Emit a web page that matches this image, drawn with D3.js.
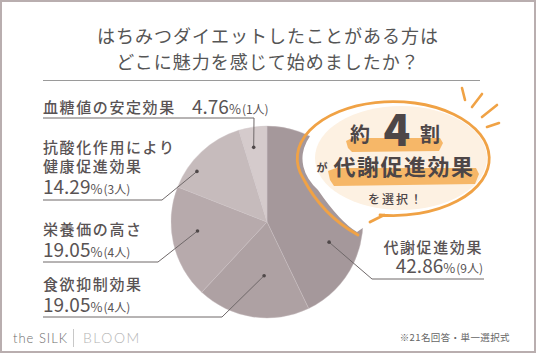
<!DOCTYPE html>
<html>
<head>
<meta charset="utf-8">
<script src="https://cdn.jsdelivr.net/npm/d3@7"></script>
<style>
  body { margin: 0; background: #fff; }
  svg text { font-family: "Noto Sans CJK JP", "Noto Sans", sans-serif; }
</style>
</head>
<body>
<div id="chart"></div>
<script>
// data (order = clockwise from 12 o'clock)
const categories = ["代謝促進効果", "食欲抑制効果", "栄養価の高さ", "抗酸化作用により\n健康促進効果", "血糖値の安定効果"];
const counts = [9, 4, 4, 3, 1];
const percents = ["42.86", "19.05", "19.05", "14.29", "4.76"];
const sliceColors = ["#a5989b", "#aea1a3", "#b7aaac", "#c6bbbc", "#d5cbcc"];

const width = 536;
const height = 353;
const cx = 267, cy = 222, radius = 96;
const textColor = "#595354";
const lineColor = "#6f6869";

// label layout: where the text sits and where the leader line bends
const labelLayout = [
  { anchor: "end", x: 483, nameY: [248], numY: 267, lineY: 279, x0: 372, x1: 484, elbow: 372, frac: 0.70, r: 0.68 },
  { anchor: "start", x: 43, nameY: [285], numY: 306, lineY: 317, x0: 43, x1: 222, elbow: 222, frac: 0.42, r: 0.56 },
  { anchor: "start", x: 43, nameY: [230], numY: 251, lineY: 262, x0: 43, x1: 158, elbow: 158, frac: 0.58, r: 0.73 },
  { anchor: "start", x: 43, nameY: [148, 167], numY: 188, lineY: 200, x0: 43, x1: 162, elbow: 162, frac: 0.28, r: 0.9 },
  { anchor: "start", x: 43, nameY: [108], numY: 108, numX: 192, lineY: 118, x0: 43, x1: 254, elbow: 254, frac: 0.41, r: 0.79 }
];

const svg = d3.select("#chart")
  .append("svg")
  .attr("width", width)
  .attr("height", height);

svg.append("rect")
  .attr("x", 1).attr("y", 1)
  .attr("width", width - 2).attr("height", height - 2)
  .attr("fill", "#fff")
  .attr("stroke", "#b9aeaf")
  .attr("stroke-width", 2);

// title
const title = ["はちみつダイエットしたことがある方は", "どこに魅力を感じて始めましたか？"];
svg.selectAll(".title")
  .data(title)
  .enter()
  .append("text")
  .attr("class", "title")
  .attr("x", 268)
  .attr("y", (d, i) => 37 + i * 26)
  .attr("dy", "0.35em")
  .attr("text-anchor", "middle")
  .attr("fill", "#555")
  .style("font-size", "18px")
  .style("letter-spacing", "1px")
  .text((d) => d);

svg.append("line")
  .attr("x1", 43).attr("x2", 480)
  .attr("y1", 80.5).attr("y2", 80.5)
  .attr("stroke", "#9a9a9a")
  .attr("stroke-width", 1);

// pie
const pieData = categories.map((c, i) => ({ name: c, count: counts[i], pct: percents[i], i }));
const pie = d3.pie().value((d) => d.count).sort(null);
const arcs = pie(pieData);
const arc = d3.arc().innerRadius(0).outerRadius(radius);

const pieG = svg.append("g").attr("transform", `translate(${cx},${cy})`);
pieG.selectAll("path")
  .data(arcs)
  .enter()
  .append("path")
  .attr("d", arc)
  .attr("fill", (d) => sliceColors[d.data.i])
  .attr("stroke", "#cdc3c4")
  .attr("stroke-width", 0.4);

// leader lines + dots + labels
arcs.forEach((d) => {
  const L = labelLayout[d.data.i];
  const a = d.startAngle + L.frac * (d.endAngle - d.startAngle);
  const px = cx + Math.sin(a) * radius * L.r;
  const py = cy - Math.cos(a) * radius * L.r;

  svg.append("path")
    .attr("d", `M${L.x0},${L.lineY}H${L.x1}M${L.elbow},${L.lineY}L${px},${py}`)
    .attr("fill", "none")
    .attr("stroke", lineColor)
    .attr("stroke-width", 1);

  svg.append("circle")
    .attr("cx", px).attr("cy", py)
    .attr("r", 1.8)
    .attr("fill", "#4f4849");

  const names = d.data.name.split("\n");
  names.forEach((n, k) => {
    svg.append("text")
      .attr("x", L.x)
      .attr("y", L.nameY[k])
      .attr("dy", "0.35em")
      .attr("text-anchor", L.anchor)
      .attr("fill", textColor)
      .style("font-size", "15px")
      .style("font-weight", 500)
      .style("letter-spacing", "1.6px")
      .text(n);
  });

  const num = svg.append("text")
    .attr("x", L.numX || L.x)
    .attr("y", L.numY)
    .attr("dy", "0.35em")
    .attr("text-anchor", L.anchor)
    .attr("fill", textColor);
  num.append("tspan").style("font-size", "19px").text(d.data.pct);
  num.append("tspan").style("font-size", "13px").text("%");
  num.append("tspan").style("font-size", "12px").attr("dx", 1).text(`(${d.data.count}人)`);
});

// callout bubble
const bubble = svg.append("g");
bubble.append("path")
  .attr("d", "M318,190 Q340,222 357,232 Q372,222 380,214 A90 56 0 1 0 318,190 Z")
  .attr("fill", "#fff");
bubble.append("ellipse")
  .attr("cx", 401).attr("cy", 158)
  .attr("rx", 86).attr("ry", 52)
  .attr("fill", "#fdf1e2");
bubble.append("path")
  .attr("d", "M380,215 A96 57 0 1 0 303,178 Q322,215 358,235 M370,222 L384,215")
  .attr("fill", "none")
  .attr("stroke", "#f0a245")
  .attr("stroke-width", 2.8)
  .attr("stroke-linecap", "round");

// sparkle strokes
const sparks = [[462, 88, 465, 100], [472, 107, 482, 94], [482, 117, 497, 105], [487, 127, 499, 123]];
bubble.selectAll(".spark")
  .data(sparks)
  .enter()
  .append("line")
  .attr("x1", (d) => d[0]).attr("y1", (d) => d[1])
  .attr("x2", (d) => d[2]).attr("y2", (d) => d[3])
  .attr("stroke", "#f0a245")
  .attr("stroke-width", 2.6)
  .attr("stroke-linecap", "round");

// brush highlights
bubble.append("path")
  .attr("d", "M346,141 L352,138 L440,138 L443,143 L439,151 L352,152 L348,148 Z")
  .attr("fill", "#f6b768");
bubble.append("path")
  .attr("d", "M328,171 L336,168 L476,168 L479,174 L475,184 L334,186 L330,180 Z")
  .attr("fill", "#f6b768");

const bold = (t, x, y, size) => bubble.append("text")
  .attr("x", x).attr("y", y)
  .attr("dy", "0.35em")
  .attr("text-anchor", "middle")
  .attr("fill", "#4d4647")
  .style("font-size", size + "px")
  .style("font-weight", 700)
  .text(t);
bold("約", 360, 135, 20);
bold("4", 397, 131, 44).style("font-weight", 900);
bold("割", 430, 135, 20);
bold("が", 322, 168, 11);
bold("代謝促進効果", 404, 167, 22).style("letter-spacing", "1.5px");
bold("を選択！", 396, 200, 12).style("letter-spacing", "2px").style("font-weight", 500);

// footer
svg.append("text")
  .attr("x", 13).attr("y", 338).attr("dy", "0.35em")
  .attr("fill", "#6d6d6d")
  .style("font-family", "Lato, 'Open Sans', sans-serif")
  .style("font-weight", 300)
  .style("font-size", "13px")
  .style("letter-spacing", "1px")
  .text("the SILK");
svg.append("line")
  .attr("x1", 73.5).attr("x2", 73.5)
  .attr("y1", 329).attr("y2", 347)
  .attr("stroke", "#c8c8c8");
svg.append("text")
  .attr("x", 83).attr("y", 338).attr("dy", "0.35em")
  .attr("fill", "#b4b4b4")
  .style("font-family", "Lato, 'Open Sans', sans-serif")
  .style("font-weight", 300)
  .style("font-size", "14px")
  .style("letter-spacing", "1.5px")
  .text("BLOOM");
svg.append("text")
  .attr("x", 510).attr("y", 338).attr("dy", "0.35em")
  .attr("text-anchor", "end")
  .attr("fill", "#666")
  .style("font-size", "9.5px")
  .style("letter-spacing", "0.4px")
  .text("※21名回答・単一選択式");
</script>
</body>
</html>
